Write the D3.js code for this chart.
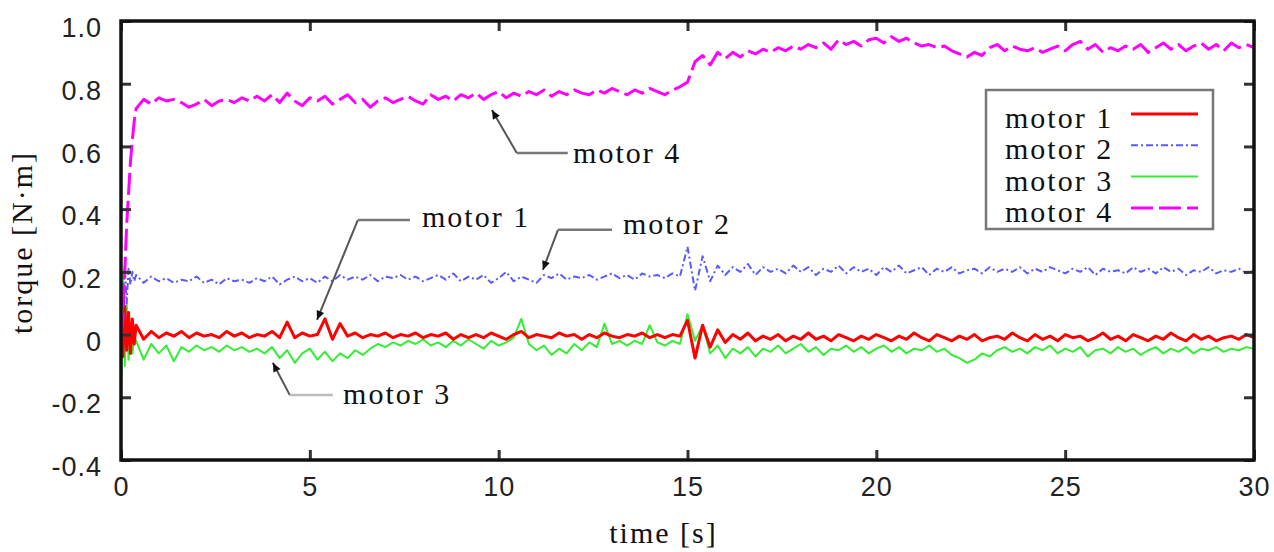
<!DOCTYPE html>
<html>
<head>
<meta charset="utf-8">
<script src="https://cdnjs.cloudflare.com/ajax/libs/d3/7.8.5/d3.min.js"></script>
<style>
body{margin:0;background:#fff;}
text.lbl{font-family:"Liberation Serif","Times New Roman",serif;font-size:30px;letter-spacing:2px;fill:#111;}
.tk text{font-family:"Liberation Sans",Arial,sans-serif;font-size:27px;fill:#222;letter-spacing:1px;}
.tk line{stroke:#333;stroke-width:3;}
</style>
</head>
<body>
<script>
// time axis: a few fine samples for the start transient, then every 0.2 s
var tEarly = [0, 0.05, 0.1, 0.15, 0.2, 0.25, 0.3, 0.35];
var tMain = d3.range(0.4, 30.001, 0.2);
var time = tEarly.concat(tMain);

var names = ["motor 1", "motor 2", "motor 3", "motor 4"];
var xTicks = [0, 5, 10, 15, 20, 25, 30];
var yTicks = [-0.4, -0.2, 0, 0.2, 0.4, 0.6, 0.8, 1.0];

var m1 = [0.0, -0.07, 0.09, -0.05, 0.07, -0.06, 0.05, -0.03,
  0.03, -0.015, 0.01, -0.01, 0.005,
  -0.005, 0.01, -0.01, 0.005, -0.005,
  0.0, -0.01, 0.01, -0.005, 0.005,
  -0.01, 0.0, -0.005, 0.01, -0.01,
  0.04, -0.01, 0.005, -0.005, 0.0,
  0.05, -0.015, 0.035, -0.005, 0.005,
  -0.01, 0.0, -0.005, 0.005, -0.01,
  0.0, -0.005, 0.005, -0.01, 0.0,
  -0.005, 0.005, -0.015, 0.0, -0.01,
  0.0, -0.01, 0.005, -0.005, -0.015,
  0.0, 0.01, -0.01, 0.0, -0.005,
  -0.01, 0.005, -0.005, 0.0, -0.015,
  0.0, -0.01, 0.005, -0.005, -0.01,
  0.0, -0.005, 0.005, -0.01, 0.0,
  -0.01, 0.0, -0.005, 0.045, -0.075,
  0.03, -0.04, 0.015, -0.025, 0.0,
  -0.015, 0.005, -0.02, -0.005, -0.015,
  0.0, -0.02, -0.005, -0.015, 0.005,
  -0.015, -0.005, -0.02, 0.0, -0.01,
  -0.02, -0.005, -0.015, 0.0, -0.01,
  -0.02, -0.005, -0.015, 0.005, -0.01,
  -0.02, 0.0, -0.01, -0.02, -0.005,
  -0.015, 0.0, -0.02, -0.01, -0.005,
  -0.015, 0.005, -0.01, -0.02, 0.0,
  -0.015, -0.005, -0.02, 0.0, -0.01,
  -0.005, -0.02, -0.01, 0.005, -0.015,
  -0.005, -0.02, 0.0, -0.01, -0.02,
  -0.005, -0.015, 0.005, -0.01, -0.02,
  0.0, -0.015, -0.005, -0.02, -0.01,
  -0.005, -0.015, 0.0, -0.01];

var m2 = [0.0, 0.12, 0.22, 0.1, 0.21, 0.16, 0.2, 0.17,
  0.19, 0.165, 0.185, 0.17, 0.18,
  0.165, 0.175, 0.17, 0.185, 0.165,
  0.175, 0.16, 0.18, 0.17, 0.175,
  0.165, 0.18, 0.17, 0.185, 0.16,
  0.175, 0.185, 0.17, 0.18, 0.165,
  0.185, 0.17, 0.19, 0.175, 0.185,
  0.175, 0.19, 0.17, 0.185, 0.18,
  0.19, 0.175, 0.185, 0.17, 0.18,
  0.19, 0.175, 0.195, 0.17, 0.185,
  0.175, 0.19, 0.165, 0.18, 0.2,
  0.17, 0.185, 0.175, 0.165, 0.19,
  0.18, 0.195, 0.175, 0.185, 0.18,
  0.19, 0.175, 0.185, 0.195, 0.18,
  0.19, 0.175, 0.195, 0.185, 0.19,
  0.18, 0.195, 0.185, 0.28, 0.14,
  0.25, 0.17, 0.22, 0.19, 0.215,
  0.2, 0.225, 0.19, 0.215, 0.2,
  0.21, 0.195, 0.22, 0.2, 0.215,
  0.19, 0.21, 0.2, 0.22, 0.195,
  0.215, 0.2, 0.21, 0.19, 0.215,
  0.2, 0.22, 0.195, 0.205, 0.215,
  0.19, 0.21, 0.2, 0.215, 0.195,
  0.205, 0.21, 0.195, 0.215, 0.2,
  0.21, 0.2, 0.215, 0.195, 0.21,
  0.2, 0.215, 0.205, 0.195, 0.21,
  0.2, 0.215, 0.19, 0.21, 0.2,
  0.205, 0.195, 0.215, 0.2, 0.21,
  0.195, 0.215, 0.2, 0.21, 0.19,
  0.205, 0.2, 0.215, 0.195, 0.205,
  0.2, 0.21, 0.195, 0.205];

var m3 = [-0.2, 0.2, -0.1, 0.1, -0.08, 0.02, -0.06, -0.01,
  -0.02, -0.08, -0.03, -0.06, -0.035,
  -0.085, -0.04, -0.055, -0.035, -0.05,
  -0.04, -0.055, -0.035, -0.05, -0.04,
  -0.055, -0.045, -0.06, -0.04, -0.075,
  -0.05, -0.09, -0.06, -0.045, -0.08,
  -0.055, -0.085, -0.06, -0.075, -0.05,
  -0.065, -0.045, -0.03, -0.04, -0.025,
  -0.035, -0.02, -0.03, -0.015, -0.035,
  -0.025, -0.04, -0.02, -0.035, -0.015,
  -0.03, -0.045, -0.02, -0.035, -0.025,
  -0.01, 0.05, -0.03, -0.05, -0.035,
  -0.065, -0.045, -0.06, -0.03, -0.05,
  -0.025, -0.04, 0.035, -0.03, -0.02,
  -0.035, -0.02, -0.03, 0.03, -0.025,
  -0.035, -0.02, -0.03, 0.065, -0.02,
  0.03, -0.06, -0.035, -0.075, -0.045,
  -0.06, -0.04, -0.07, -0.045, -0.055,
  -0.035, -0.06, -0.045, -0.03, -0.055,
  -0.04, -0.065, -0.045, -0.05, -0.035,
  -0.055, -0.04, -0.06, -0.045, -0.035,
  -0.055, -0.04, -0.06, -0.045, -0.05,
  -0.035, -0.055, -0.045, -0.065, -0.075,
  -0.09, -0.08, -0.06, -0.07, -0.05,
  -0.04, -0.055, -0.045, -0.06, -0.04,
  -0.05, -0.035, -0.06, -0.045, -0.055,
  -0.04, -0.07, -0.05, -0.045, -0.06,
  -0.04, -0.055, -0.045, -0.065, -0.05,
  -0.04, -0.06, -0.045, -0.055, -0.04,
  -0.06, -0.045, -0.05, -0.04, -0.055,
  -0.045, -0.05, -0.04, -0.045];

var m4 = [0.0, 0.05, 0.2, 0.35, 0.45, 0.55, 0.62, 0.68,
  0.72, 0.75, 0.735, 0.755, 0.745,
  0.75, 0.74, 0.725, 0.735, 0.75,
  0.73, 0.745, 0.75, 0.74, 0.755,
  0.745, 0.76, 0.745, 0.765, 0.74,
  0.77, 0.745, 0.73, 0.755, 0.745,
  0.76, 0.735, 0.75, 0.765, 0.74,
  0.75, 0.725, 0.745, 0.755, 0.74,
  0.75, 0.76, 0.745, 0.735, 0.765,
  0.75, 0.76, 0.745, 0.765, 0.755,
  0.77, 0.75, 0.765, 0.775, 0.755,
  0.77, 0.76, 0.775, 0.765, 0.78,
  0.76, 0.775, 0.765, 0.78, 0.77,
  0.765, 0.78, 0.77, 0.785, 0.775,
  0.765, 0.78, 0.77, 0.785, 0.775,
  0.765, 0.78, 0.79, 0.805, 0.87,
  0.89, 0.86, 0.9, 0.88, 0.9,
  0.885, 0.905, 0.895, 0.91, 0.9,
  0.915, 0.905, 0.92, 0.91, 0.925,
  0.915, 0.93, 0.91, 0.94, 0.925,
  0.935, 0.92, 0.94, 0.945, 0.93,
  0.95, 0.935, 0.945, 0.93, 0.92,
  0.925, 0.915, 0.92, 0.905, 0.895,
  0.885, 0.9, 0.89, 0.915, 0.925,
  0.905, 0.92, 0.91, 0.905, 0.915,
  0.9, 0.91, 0.92, 0.905, 0.925,
  0.935, 0.91, 0.925, 0.9, 0.915,
  0.905, 0.92, 0.91, 0.925, 0.9,
  0.915, 0.93, 0.91, 0.925, 0.905,
  0.92, 0.93, 0.91, 0.925, 0.905,
  0.93, 0.915, 0.925, 0.915];

var W = 1274, H = 552;
var pL = 121, pR = 1254, pT = 21, pB = 460;

var svg = d3.select("body").append("svg").attr("width", W).attr("height", H);

var x = d3.scaleLinear().domain([0, 30]).range([pL, pR]);
var y = d3.scaleLinear().domain([-0.4, 1.0]).range([pB, pT]);

svg.append("clipPath").attr("id", "plot")
  .append("rect").attr("x", pL).attr("y", pT)
  .attr("width", pR - pL).attr("height", pB - pT);

// series styles, drawn green first so red sits on top like the original
var styles = {
  "motor 1": {color: "#ff0000", width: 3, dash: null},
  "motor 2": {color: "#5a5aff", width: 2, dash: "7,3,2,3"},
  "motor 3": {color: "#33ee33", width: 2, dash: null},
  "motor 4": {color: "#ff00ff", width: 3, dash: "22,6"}
};
var series = {"motor 1": m1, "motor 2": m2, "motor 3": m3, "motor 4": m4};
var order = ["motor 3", "motor 1", "motor 2", "motor 4"];

var line = d3.line()
  .x(function (d, i) { return x(time[i]); })
  .y(function (d) { return y(d); });

var gLines = svg.append("g").attr("clip-path", "url(#plot)");
order.forEach(function (n) {
  var s = styles[n];
  gLines.append("path")
    .datum(series[n])
    .attr("d", line)
    .attr("fill", "none")
    .attr("stroke", s.color)
    .attr("stroke-width", s.width)
    .attr("stroke-linejoin", "round")
    .attr("stroke-dasharray", s.dash);
});

// axes with inward ticks, mirrored on top and right
var fmtY = function (d) { return d === 0 ? "0" : d.toFixed(1); };

svg.append("g").attr("class", "tk").attr("transform", "translate(0," + pB + ")")
  .call(d3.axisBottom(x).tickValues(xTicks).tickSize(-10).tickPadding(17).tickFormat(d3.format("d")));
var gy = svg.append("g").attr("class", "tk").attr("transform", "translate(" + pL + ",0)")
  .call(d3.axisLeft(y).tickValues(yTicks).tickSize(-10).tickPadding(19).tickFormat(fmtY));
gy.selectAll("text").attr("dy", "0.58em");
svg.append("g").attr("class", "tk").attr("transform", "translate(0," + pT + ")")
  .call(d3.axisTop(x).tickValues(xTicks).tickSize(-10).tickFormat(""));
svg.append("g").attr("class", "tk").attr("transform", "translate(" + pR + ",0)")
  .call(d3.axisRight(y).tickValues(yTicks).tickSize(-10).tickFormat(""));
svg.selectAll(".tk .domain").remove();

svg.append("rect")
  .attr("x", pL).attr("y", pT)
  .attr("width", pR - pL).attr("height", pB - pT)
  .attr("fill", "none").attr("stroke", "#111").attr("stroke-width", 3.5);

svg.append("text").attr("class", "lbl")
  .attr("x", (pL + pR) / 2 - 24).attr("y", 543)
  .attr("text-anchor", "middle").text("time [s]");
svg.append("text").attr("class", "lbl")
  .attr("transform", "translate(32," + ((pT + pB) / 2 + 2) + ") rotate(-90)")
  .attr("text-anchor", "middle").text("torque [N\u00b7m]");

// leader-line annotations, in data units
var notes = [
  {name: "motor 4", pts: [[9.82, 0.716], [10.48, 0.579], [11.83, 0.579]], at: [11.97, 0.547], hcol: "#777"},
  {name: "motor 1", pts: [[5.19, 0.047], [6.27, 0.365], [7.65, 0.365]], at: [7.97, 0.343], hcol: "#777"},
  {name: "motor 2", pts: [[11.17, 0.206], [11.57, 0.334], [13.0, 0.334]], at: [13.29, 0.321], hcol: "#777"},
  {name: "motor 3", pts: [[4.02, -0.09], [4.47, -0.193], [5.61, -0.193]], at: [5.88, -0.221], hcol: "#bbb"}
];

notes.forEach(function (nt) {
  var p = nt.pts.map(function (q) { return [x(q[0]), y(q[1])]; });
  svg.append("line")
    .attr("x1", p[0][0]).attr("y1", p[0][1]).attr("x2", p[1][0]).attr("y2", p[1][1])
    .attr("stroke", "#555").attr("stroke-width", 2);
  svg.append("line")
    .attr("x1", p[1][0]).attr("y1", p[1][1]).attr("x2", p[2][0]).attr("y2", p[2][1])
    .attr("stroke", nt.hcol).attr("stroke-width", 2.5);
  var dx = p[0][0] - p[1][0], dy = p[0][1] - p[1][1];
  var len = Math.sqrt(dx * dx + dy * dy);
  var ux = dx / len, uy = dy / len;
  var bx = p[0][0] - 9 * ux, by = p[0][1] - 9 * uy;
  svg.append("path")
    .attr("d", "M" + p[0][0] + "," + p[0][1] +
      "L" + (bx - 4 * uy) + "," + (by + 4 * ux) +
      "L" + (bx + 4 * uy) + "," + (by - 4 * ux) + "Z")
    .attr("fill", "#111");
  svg.append("text").attr("class", "lbl")
    .attr("x", x(nt.at[0])).attr("y", y(nt.at[1])).text(nt.name);
});

// legend
var lg = svg.append("g").attr("transform", "translate(986,90)");
lg.append("rect").attr("width", 227).attr("height", 139)
  .attr("fill", "#fff").attr("stroke", "#777").attr("stroke-width", 2.5);
names.forEach(function (n, i) {
  var s = styles[n];
  lg.append("text").attr("class", "lbl")
    .attr("x", 19).attr("y", 38 + 31.3 * i).text(n);
  lg.append("line")
    .attr("x1", 145).attr("x2", 212)
    .attr("y1", 24 + 31.3 * i).attr("y2", 24 + 31.3 * i)
    .attr("stroke", s.color).attr("stroke-width", s.width)
    .attr("stroke-dasharray", s.dash);
});
</script>
</body>
</html>
